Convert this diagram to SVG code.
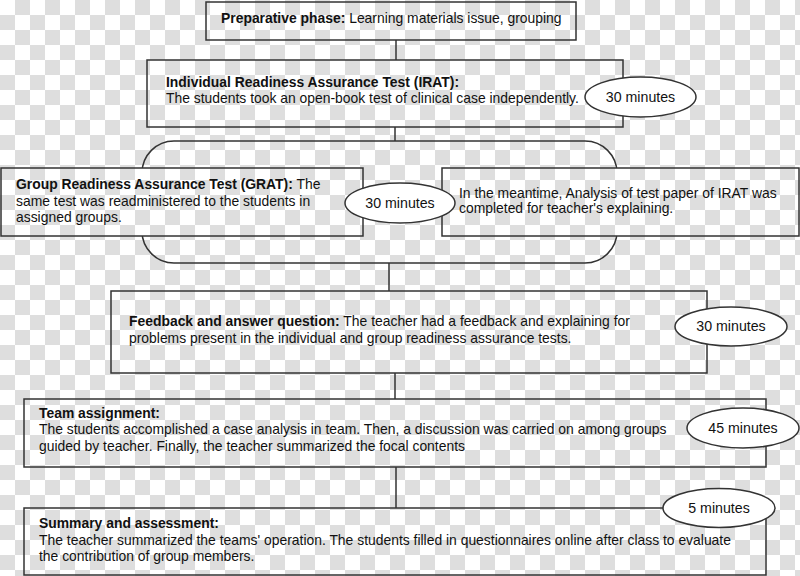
<svg xmlns="http://www.w3.org/2000/svg" width="800" height="576" viewBox="0 0 800 576">
<defs>
<pattern id="checker" width="30" height="30" patternUnits="userSpaceOnUse">
<rect width="30" height="30" fill="#ffffff"/>
<rect x="15" y="0" width="15" height="15" fill="#dedede"/>
<rect x="0" y="15" width="15" height="15" fill="#dedede"/>
</pattern>
<style>
.box{fill:url(#checker);stroke:#333;stroke-width:1.5}
.oval{fill:#fff;stroke:#333;stroke-width:1.5}
.line{fill:none;stroke:#333;stroke-width:1.5}
text{font-family:"Liberation Sans",Arial,sans-serif;font-size:13.9px;fill:#111}
.b{font-weight:bold}
.c{text-anchor:middle;font-size:14.2px}
</style>
</defs>
<rect width="800" height="576" fill="url(#checker)"/>
<g id="connectors">
<line class="line" x1="396" y1="40" x2="396" y2="60"/>
<line class="line" x1="395" y1="127" x2="395" y2="141"/>
<rect class="line" x="142" y="141" width="475" height="122" rx="32" ry="32"/>
<line class="line" x1="389" y1="263" x2="389" y2="291"/>
<line class="line" x1="395" y1="373" x2="395" y2="399"/>
<line class="line" x1="396" y1="467" x2="396" y2="508"/>
</g>
<g id="preparative">
<rect class="box" x="206" y="2" width="370" height="38"/>
<text x="221" y="23"><tspan class="b">Preparative phase:</tspan> Learning materials issue, grouping</text>
</g>
<g id="irat">
<rect class="box" x="147" y="60" width="476" height="67"/>
<text x="166" y="87" class="b">Individual Readiness Assurance Test (IRAT):</text>
<text x="166" y="103">The students took an open-book test of clinical case independently.</text>
</g>
<g id="irat-time">
<ellipse class="oval" cx="640.5" cy="97" rx="55.5" ry="20"/>
<text class="c" x="640.5" y="101.5">30 minutes</text>
</g>
<g id="grat">
<rect class="box" x="1" y="168" width="362" height="68"/>
<text x="16" y="189"><tspan class="b">Group Readiness Assurance Test (GRAT):</tspan> The</text>
<text x="16" y="205.5">same test was readministered to the students in</text>
<text x="16" y="221.5">assigned groups.</text>
</g>
<g id="analysis">
<rect class="box" x="442" y="168" width="357" height="68"/>
<text x="459" y="197.5">In the meantime, Analysis of test paper of IRAT was</text>
<text x="459" y="213">completed for teacher's explaining.</text>
</g>
<g id="grat-time">
<ellipse class="oval" cx="400" cy="203" rx="55" ry="20"/>
<text class="c" x="400" y="207.5">30 minutes</text>
</g>
<g id="feedback">
<rect class="box" x="111" y="291" width="596" height="82"/>
<text x="129" y="326"><tspan class="b">Feedback and answer question:</tspan> The teacher had a feedback and explaining for</text>
<text x="129" y="342.5">problems present in the individual and group readiness assurance tests.</text>
</g>
<g id="feedback-time">
<ellipse class="oval" cx="731" cy="326.5" rx="56" ry="19.5"/>
<text class="c" x="731" y="331">30 minutes</text>
</g>
<g id="team">
<rect class="box" x="24" y="399" width="742" height="68"/>
<text x="39" y="417.5" class="b">Team assignment:</text>
<text x="39" y="434">The students accomplished a case analysis in team. Then, a discussion was carried on among groups</text>
<text x="39" y="450.5">guided by teacher. Finally, the teacher summarized the focal contents</text>
</g>
<g id="team-time">
<ellipse class="oval" cx="743" cy="428" rx="56" ry="20"/>
<text class="c" x="743" y="432.5">45 minutes</text>
</g>
<g id="summary">
<rect class="box" x="24" y="508" width="742" height="67"/>
<text x="39" y="528" class="b">Summary and assessment:</text>
<text x="39" y="544.5">The teacher summarized the teams' operation. The students filled in questionnaires online after class to evaluate</text>
<text x="39" y="560.5">the contribution of group members.</text>
</g>
<g id="summary-time">
<ellipse class="oval" cx="719" cy="508" rx="56" ry="19.5"/>
<text class="c" x="719" y="512.5">5 minutes</text>
</g>
</svg>
